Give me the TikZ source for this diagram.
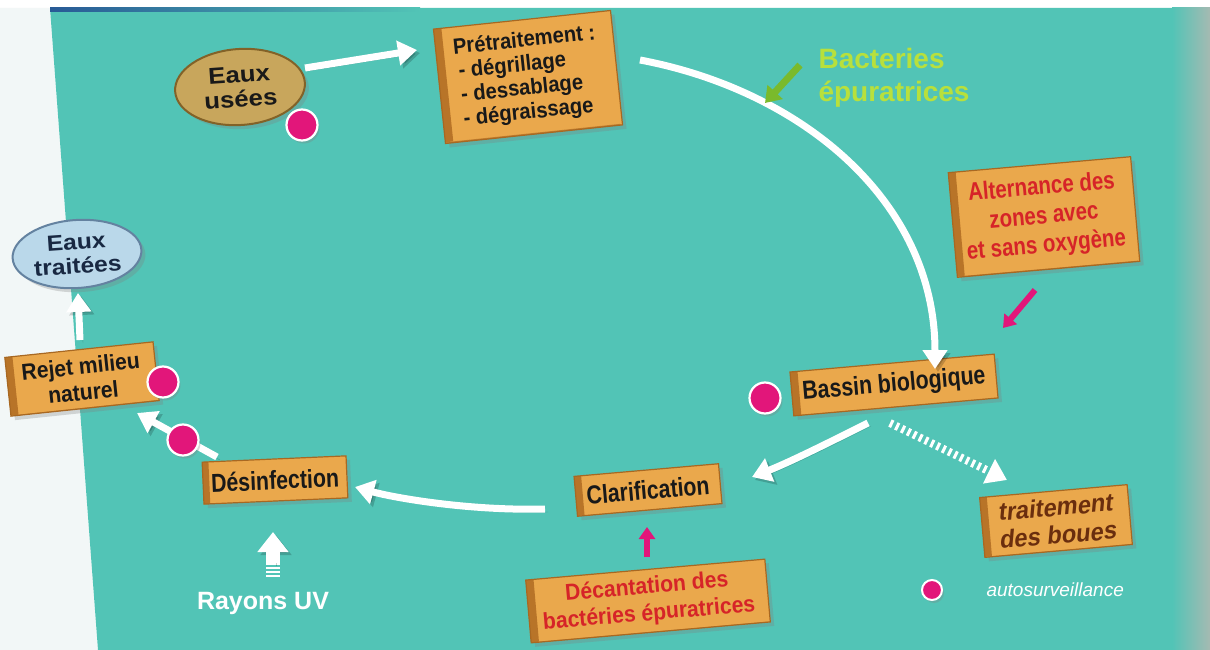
\documentclass[tikz,border=0pt]{standalone}
\usepackage{fontspec}
\setmainfont{Liberation Sans}
\newfontfamily\cnd[FakeStretch=0.82]{Liberation Sans}
\newfontfamily\cndb[FakeStretch=0.92]{Liberation Sans}
\newfontfamily\wid[FakeStretch=1.12]{Liberation Sans}
\newfontfamily\cndsl[FakeStretch=0.95,FakeSlant=0.18]{Liberation Sans}
\usetikzlibrary{arrows.meta,shapes.geometric,shadows,calc}
\definecolor{bg}{RGB}{82,196,182}
\definecolor{boxfill}{RGB}{234,168,76}
\definecolor{boxedge}{RGB}{168,104,34}
\definecolor{boxdark}{RGB}{184,116,40}
\definecolor{eufill}{RGB}{200,166,92}
\definecolor{euedge}{RGB}{130,98,40}
\definecolor{etfill}{RGB}{186,216,234}
\definecolor{etedge}{RGB}{100,130,160}
\definecolor{ettext}{RGB}{24,40,66}
\definecolor{pinkdot}{RGB}{226,22,122}
\definecolor{greentext}{RGB}{184,224,60}
\definecolor{greenarrow}{RGB}{122,186,44}
\definecolor{redtext}{RGB}{214,36,40}
\definecolor{browntext}{RGB}{106,46,14}
\definecolor{edgegrey}{RGB}{165,186,178}
\definecolor{leftbg}{RGB}{242,247,247}
\definecolor{topblue}{RGB}{40,90,150}
\begin{document}
\begin{tikzpicture}[x=1pt,y=-1pt,
  box/.style={draw=boxedge, line width=1.2pt, fill=boxfill, inner sep=3pt, align=center,
    drop shadow={shadow xshift=4pt, shadow yshift=-4pt, opacity=0.3},
    path picture={
      \fill[boxdark] (path picture bounding box.south west) rectangle ([xshift=6pt]path picture bounding box.north west);
      \fill[boxdark!80!boxfill] (path picture bounding box.south west) rectangle ([yshift=4pt]path picture bounding box.south east);}},
  blk/.style={text=black!90},
  fbox/.style={font=\cnd\bfseries\fontsize{26}{24}\selectfont},
  oval/.style={ellipse, line width=2pt, inner sep=0pt, align=center,
    drop shadow={shadow xshift=4pt, shadow yshift=-4pt, opacity=0.3}},
  dot/.style={circle, fill=pinkdot, draw=white, line width=2.2pt, minimum size=31pt, inner sep=0pt,
    drop shadow={shadow xshift=2pt, shadow yshift=-3pt, opacity=0.3}},
  warrow/.style={draw=white, line width=7pt, -{Triangle[width=24pt,length=19pt]},
    preaction={draw=black, opacity=0.18, transform canvas={shift={(3pt,-3pt)}}}},
  parrow/.style={draw=pinkdot, line width=6pt, -{Triangle[width=16pt,length=12pt]}},
  garrow/.style={draw=greenarrow, line width=7pt, -{Triangle[width=20pt,length=15pt]}}
]
\useasboundingbox (0,0) rectangle (1210,650);
% background
\fill[white] (0,0) rectangle (1210,650);
\fill[leftbg] (0,8) -- (50,8) -- (98,650) -- (0,650) -- cycle;
\fill[bg] (50,8) -- (1180,8) -- (1180,650) -- (98,650) -- cycle;
\shade[left color=bg, right color=edgegrey] (1172,8) rectangle (1210,650);
\shade[left color=topblue, right color=bg] (50,8) rectangle (420,12);

% nodes
\node[oval, fill=eufill, draw=euedge, minimum width=130pt, minimum height=76pt, rotate=4,
  blk, font=\wid\bfseries\fontsize{23}{24}\selectfont] (eu) at (240,87) {Eaux\\usées};
\node[box, rotate=6, minimum width=178pt, minimum height=115pt, align=left, blk,
  font=\cndb\bfseries\fontsize{22}{24}\selectfont] (pre) at (528,77)
  {Prétraitement :\\\hspace{3pt}- dégrillage\\\hspace{3pt}- dessablage\\\hspace{3pt}- dégraissage};
\node[anchor=west, align=left, text=greentext, font=\bfseries\fontsize{28}{33}\selectfont] (bac) at (815,78) {Bacteries\\épuratrices};
\node[box, rotate=5, minimum width=183pt, minimum height=105pt, text=redtext,
  font=\cnd\bfseries\fontsize{25}{29}\selectfont] (alt) at (1044,217) {Alternance des\\zones avec\\et sans oxygène};
\node[box, rotate=5, minimum width=205pt, minimum height=44pt, blk, fbox] (bb) at (894,385) {Bassin biologique};
\node[box, rotate=5, minimum width=145pt, minimum height=40pt, blk, fbox] (clar) at (648,490) {Clarification};
\node[box, rotate=5, minimum width=240pt, minimum height=63pt, text=redtext,
  font=\cndb\bfseries\fontsize{23}{27}\selectfont] (dec) at (648,601) {Décantation des\\bactéries épuratrices};
\node[box, rotate=5, minimum width=148pt, minimum height=60pt, text=browntext,
  font=\cndsl\bfseries\fontsize{25}{28}\selectfont] (boues) at (1056,521) {traitement\\des boues};
\node[box, rotate=2.5, minimum width=144pt, minimum height=42pt, blk, fbox] (des) at (275,480) {Désinfection};
\node[box, rotate=6, minimum width=149pt, minimum height=59pt, blk,
  font=\cndb\bfseries\fontsize{23}{26}\selectfont] (rejet) at (82,379) {Rejet milieu\\naturel};
\node[oval, fill=etfill, draw=etedge, minimum width=129pt, minimum height=68pt, rotate=4,
  text=ettext, font=\wid\bfseries\fontsize{22}{24}\selectfont] (et) at (77,254) {Eaux\\traitées};
\node[text=white, font=\bfseries\fontsize{25}{25}\selectfont] (uv) at (263,603) {Rayons UV};
\node[text=white, anchor=west, font=\itshape\fontsize{19}{19}\selectfont] (lt) at (983,590) {autosurveillance};
\coordinate (gtip) at (765,103);

% connectors
\draw[warrow] ($(eu)+(65,-19)$) -- ($(pre)+(-111,-27)$);
\draw[warrow] ($(pre)+(112,-17)$) .. controls (800,90) and (935,200) .. ($(bb)+(41,-16)$);
\draw[garrow] ($(bac.west)+(-15,-13)$) -- (gtip);
\draw[parrow] ($(alt)+(-9,73)$) -- ($(bb)+(109,-57)$);
\draw[warrow] ($(bb)+(-26,38)$) .. controls (830,442) and (790,462) .. ($(clar)+(104,-13)$);
\draw[draw=white, line width=8pt, dash pattern=on 3pt off 3.5pt, -{Triangle[width=26pt,length=20pt]}]
  ($(bb)+(-4,38)$) -- ($(boues)+(-49,-41)$);
\draw[warrow] ($(clar)+(-103,19)$) .. controls (470,511) and (395,498) .. ($(des)+(80,7)$);
\draw[parrow] ($(dec)+(-1,-44)$) -- ($(clar)+(-1,37)$);
\draw[white, line width=14pt, dash pattern=on 2pt off 2pt] ($(uv)+(10,-26)$) -- ($(uv)+(10,-40)$);
\draw[warrow, line width=14pt, -{Triangle[width=30pt,length=20pt]}] ($(uv)+(10,-40)$) -- ($(des)+(-2,52)$);
\draw[warrow] ($(des)+(-58,-23)$) -- ($(rejet)+(55,34)$);
\draw[warrow] ($(rejet)+(-2,-39)$) -- ($(et)+(1,39)$);

% autosurveillance dots
\node[dot] (d1) at (302,125) {};
\node[dot] (d2) at (765,398) {};
\node[dot] (d3) at (163,382) {};
\node[dot] (d4) at (183,440) {};
\node[dot, minimum size=20pt, line width=2pt] (d5) at (932,590) {};
\end{tikzpicture}
\end{document}
